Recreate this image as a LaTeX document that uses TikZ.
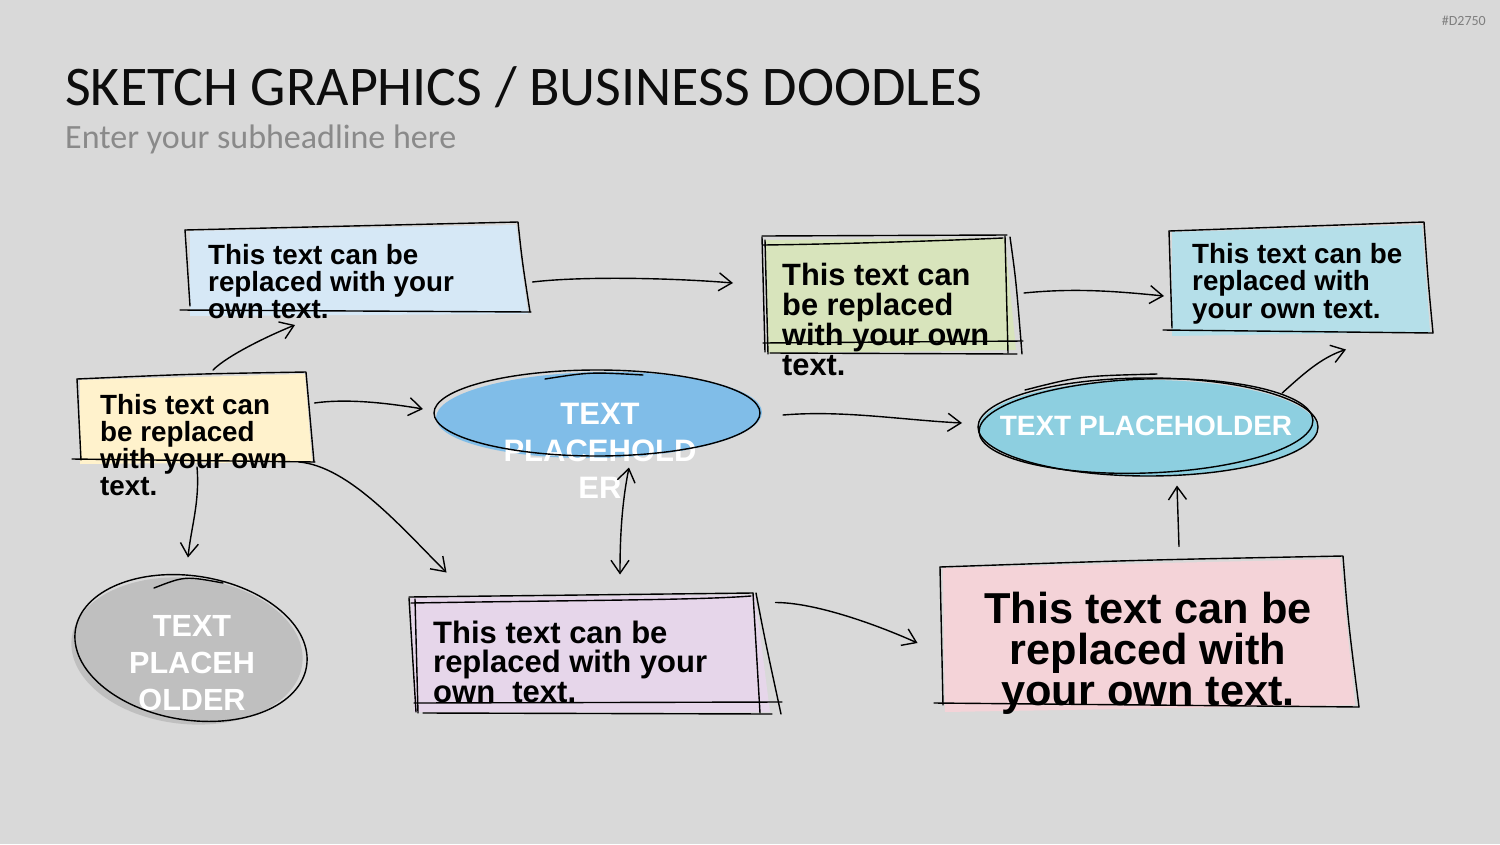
\documentclass[tikz,border=0pt]{standalone}
\usepackage{fontspec}
\setmainfont{Liberation Sans}
\newfontfamily\headfont{Carlito}
\usetikzlibrary{arrows.meta,shapes.geometric}

\definecolor{bgcol}{HTML}{D9D9D9}
\definecolor{headcol}{HTML}{0D0D0D}
\definecolor{subcol}{HTML}{8A8A8A}
\definecolor{idcol}{HTML}{7F7F7F}
\definecolor{bluebox}{HTML}{D6E8F6}
\definecolor{yelbox}{HTML}{FFF2CC}
\definecolor{grnbox}{HTML}{D8E4BC}
\definecolor{cyanbox}{HTML}{B5DFE9}
\definecolor{purbox}{HTML}{E6D6EA}
\definecolor{pinkbox}{HTML}{F4D3D8}
\definecolor{blueell}{HTML}{80BDE8}
\definecolor{cyanell}{HTML}{8DCFE0}
\definecolor{grayell}{HTML}{BFBFBF}

\newcommand{\bxfont}[2]{\fontsize{#1}{#2}\selectfont\bfseries}

\tikzset{
  frame/.style={inner sep=0pt, outer sep=0pt},
  sk/.style={line width=1.4pt, line cap=round, line join=round},
  arr/.style={sk, -{Straight Barb[length=13pt,width=18pt]}},
  darr/.style={sk, {Straight Barb[length=13pt,width=18pt]}-{Straight Barb[length=13pt,width=18pt]}},
  btext/.style={inner sep=0pt, anchor=base west, align=left},
  etext/.style={inner sep=0pt, anchor=base, align=center, text=white},
}

\begin{document}
\begin{tikzpicture}[x=1pt, y=-1pt]
  \useasboundingbox (0,0) rectangle (1500,844);
  \fill[bgcol] (0,0) rectangle (1500,844);

  % heading
  \node[anchor=base west, inner sep=0pt, text=headcol, font=\headfont\fontsize{56}{60}\selectfont] (title) at (65,105) {SKETCH GRAPHICS / BUSINESS DOODLES};
  \node[anchor=base west, inner sep=0pt, text=subcol, font=\headfont\fontsize{34}{40}\selectfont] (sub) at (65,148) {Enter your subheadline here};
  \node[anchor=base east, inner sep=0pt, text=idcol, font=\headfont\fontsize{14}{16}\selectfont] (id) at (1486,25) {\#D2750};

  % frames
  \node[frame, minimum width=345, minimum height=88] (blueb) at (357,268) {};
  \node[frame, minimum width=237, minimum height=88] (yelb) at (195,418) {};
  \node[frame, minimum width=260, minimum height=118] (grnb) at (892,295) {};
  \node[frame, minimum width=264, minimum height=111] (cyanb) at (1301,277) {};
  \node[frame, minimum width=373, minimum height=121] (purb) at (595,653) {};
  \node[frame, minimum width=419, minimum height=151] (pinkb) at (1149,632) {};
  \node[frame, ellipse, minimum width=326, minimum height=87] (bell) at (597,413) {};
  \node[frame, ellipse, minimum width=340, minimum height=99] (cell) at (1148,427) {};
  \node[frame, ellipse, minimum width=232, minimum height=149] (gcirc) at (191,648) {};

  % fills
  \fill[bluebox] (190,231) -- (516,225) -- (528,314) -- (190,316) -- cycle;
  \fill[yelbox] (80,380) -- (305,374) -- (312,462) -- (80,464) -- cycle;
  \fill[grnbox] (765,240) -- (1005,238) -- (1016,350) -- (768,353) -- cycle;
  \fill[cyanbox] (1172,232) -- (1422,225) -- (1430,332) -- (1172,336) -- cycle;
  \fill[purbox] (411,598) -- (755,595) -- (770,712) -- (414,712) -- cycle;
  \fill[pinkbox] (943,568) -- (1340,559) -- (1355,705) -- (945,712) -- cycle;
  \fill[blueell, rotate around={1:(599,415)}] (599,415) ellipse [x radius=163, y radius=43];
  \fill[cyanell] (1148,428) ellipse [x radius=169, y radius=48];
  \fill[grayell, rotate around={-6:(187,651)}] (187,651) ellipse [x radius=116, y radius=73];

  % texts
  \node[btext, font=\bxfont{27.8}{27}] (blueT) at (208,318) {This text can be\\replaced with your\\own text.};
  \node[btext, font=\bxfont{27.8}{27}] (yelT) at (100,495) {This text can\\be replaced\\with your own\\text.};
  \node[btext, font=\bxfont{30.8}{30}] (grnT) at (782,375) {This text can\\be replaced\\with your own\\text.};
  \node[btext, font=\bxfont{27.8}{27.5}] (cyanT) at (1192,318) {This text can be\\replaced with\\your own text.};
  \node[btext, font=\bxfont{31}{29.5}] (purT) at (433,702) {This text can be\\replaced with your\\own\ \ text.};
  \node[inner sep=0pt, anchor=base, align=center, font=\bxfont{43.3}{41}] (pinkT) at (1148,705) {This text can be\\replaced with\\your own text.};
  \node[etext, font=\bxfont{31}{37}] (bellT) at (600,498) {TEXT\\PLACEHOLD\\ER};
  \node[etext, font=\bxfont{28}{30}] (cellT) at (1146,435) {TEXT PLACEHOLDER};
  \node[etext, font=\bxfont{30.6}{37}] (gcircT) at (192,710) {TEXT\\PLACEH\\OLDER};

  % sketch outlines
  \draw[sk] (185,230) -- (518,222) .. controls (522,260) .. (530,312);
  \draw[sk] (185,230) -- (190,306);
  \draw[sk] (180,310) -- (531,312);

  \draw[sk] (77,379) .. controls (190,374) .. (306,372) -- (314,462);
  \draw[sk] (77,379) -- (81,460);
  \draw[sk] (72,459) -- (315,462);

  \draw[sk] (762,236) -- (1007,235);
  \draw[sk] (763,245) .. controls (850,244) and (960,240) .. (1003,238);
  \draw[sk] (762,237) -- (765,352);
  \draw[sk] (765,240) -- (768,354);
  \draw[sk] (1005,236) -- (1008,353);
  \draw[sk] (1010,237) .. controls (1016,280) .. (1022,354);
  \draw[sk] (763,343) -- (1023,341);
  \draw[sk] (770,353) -- (1017,354);

  \draw[sk] (1169,231) -- (1424,222) .. controls (1428,280) .. (1433,333);
  \draw[sk] (1169,231) -- (1172,328);
  \draw[sk] (1163,330) -- (1433,333);

  \draw[sk] (409,597) -- (753,593);
  \draw[sk] (411,603) .. controls (600,600) and (700,600) .. (751,596);
  \draw[sk] (409,598) -- (416,712);
  \draw[sk] (415,599) -- (418,713);
  \draw[sk] (753,593) -- (760,713);
  \draw[sk] (756,593) .. controls (765,640) .. (781,714);
  \draw[sk] (414,703) -- (782,702);
  \draw[sk] (423,713) -- (772,714);

  \draw[sk] (940,567) .. controls (1140,560) .. (1343,556) .. controls (1348,620) .. (1359,707);
  \draw[sk] (940,567) -- (943,705);
  \draw[sk] (934,703) -- (1359,707);

  \draw[sk] (597,413) ellipse [x radius=163, y radius=43];
  \draw[sk] (545,379) .. controls (590,372) .. (643,375);

  \draw[sk] (1148,427) ellipse [x radius=170, y radius=49];
  \draw[sk, rotate around={2:(1146,426)}] (1146,426) ellipse [x radius=167, y radius=47];
  \draw[sk] (1025,390) .. controls (1080,376) .. (1157,374);

  \draw[sk, rotate around={-9:(191,648)}] (191,648) ellipse [x radius=117, y radius=72];
  \draw[sk] (154,588) .. controls (185,576) .. (223,583);

  % connectors
  \draw[arr] ([shift={(18,-4)}]yelb.north) .. controls +(15,-15) and +(-25,10) .. ([shift={(-62,13)}]blueb.south);
  \draw[arr] ([shift={(3,14)}]blueb.east) .. controls +(50,-6) and +(-60,-5) .. ([shift={(-29,-12)}]grnb.west);
  \draw[arr] ([shift={(2,-2)}]grnb.east) .. controls +(50,-5) and +(-50,-5) .. ([shift={(-5,19)}]cyanb.west);
  \draw[arr] ([shift={(1,-15)}]yelb.east) .. controls +(35,-5) and +(-30,-5) .. ([shift={(-11,-4)}]bell.west);
  \draw[arr] ([shift={(23,2)}]bell.east) .. controls +(60,-5) and +(-60,-3) .. ([shift={(-16,-4)}]cell.west);
  \draw[arr] ([shift={(14,1)}]cell.north east) .. controls +(20,-18) and +(-25,8) .. ([shift={(45,17)}]cyanb.south);
  \draw[arr] ([shift={(2,5)}]yelb.south) .. controls +(3,35) and +(3,-30) .. ([shift={(-3,-16)}]gcirc.north);
  \draw[arr] ([shift={(-14,0)}]yelb.south east) .. controls +(50,5) and +(-45,-45) .. ([shift={(38,-20)}]purb.north west);
  \draw[darr] ([shift={(32,11)}]bell.south) .. controls +(-8,40) and +(0,-30) .. ([shift={(25,-18)}]purb.north);
  \draw[arr] ([shift={(-6,10)}]purb.north east) .. controls +(40,0) and +(-40,-18) .. ([shift={(-22,11)}]pinkb.west);
  \draw[arr] ([shift={(30,-10)}]pinkb.north) -- ([shift={(29,9)}]cell.south);
\end{tikzpicture}
\end{document}
